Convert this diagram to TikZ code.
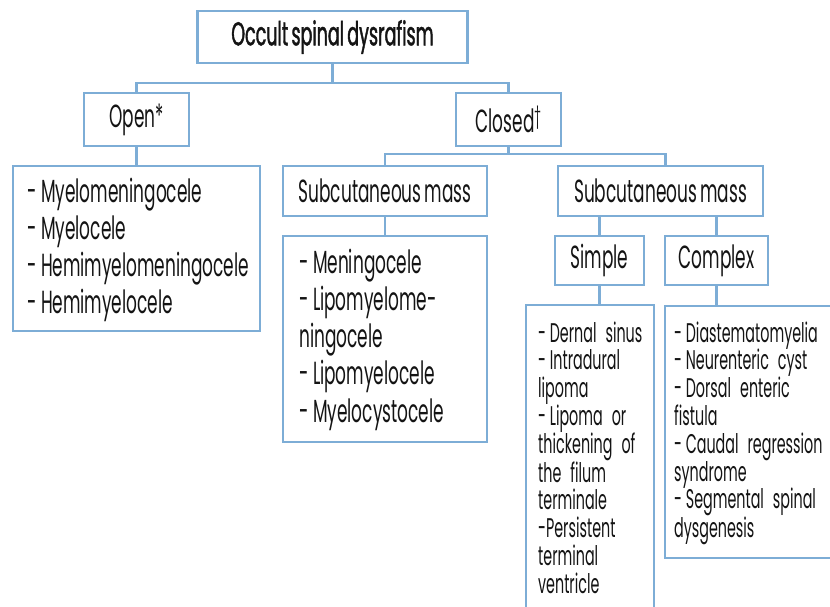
\documentclass[tikz,border=0pt]{standalone}
\usepackage{fontspec}
\setmainfont[FakeStretch=0.53,WordSpace=0.7]{Poppins}
\newfontfamily\headfont[FakeStretch=0.53,FakeBold=1.2,WordSpace=0.7]{Poppins}
\definecolor{boxblue}{RGB}{125,173,214}
\definecolor{inkblack}{RGB}{20,20,20}
\newcommand{\itemdash}{-\hspace{0.14em}}
\tikzset{
	box/.style={draw=boxblue, line width=2.5pt, fill=white, inner sep=0pt,
		rectangle, text=inkblack, font=\fontsize{32}{37.5}\selectfont},
	link/.style={draw=boxblue, line width=2.5pt},
	items/.style={inner sep=0pt, anchor=base west, align=left, text width=400pt,
		text=inkblack, font=\fontsize{32}{37.3}\selectfont},
	smallitems/.style={items, font=\fontsize{27}{27.8}\selectfont}
}
\begin{document}
\begin{tikzpicture}[x=1pt,y=-1pt]
	% frame of the picture
	\useasboundingbox (0,0) rectangle (830,607);
	\clip (0,0) rectangle (830,607);
	\fill[white] (0,0) rectangle (830,607);
	
	% top level
	\node[box, minimum width=270, minimum height=52, font=\headfont\fontsize{33}{36}\selectfont]
		(osd) at (332.5,37) {Occult spinal dysrafism};
	\node[box, minimum width=105, minimum height=53] (open) at (136.5,119.5) {Open*};
	\node[box, minimum width=105, minimum height=53] (closed) at (508.5,119.5) {Closed\textsuperscript{\dag}};
	
	% open branch
	\node[box, minimum width=247, minimum height=165] (openlist) at (136.5,248.5) {};
	\node[items] (openitems) at (27,202)
		{\itemdash Myelomeningocele\\\itemdash Myelocele\\\itemdash Hemimyelomeningocele\\\itemdash Hemimyelocele};
	
	% closed branch
	\node[box, minimum width=204, minimum height=50] (subA) at (385,191) {Subcutaneous mass};
	\node[box, minimum width=205, minimum height=50] (subB) at (660.5,191) {Subcutaneous mass};
	\node[box, minimum width=204, minimum height=206] (sublist) at (385,339) {};
	\node[items] (subitems) at (299,273)
		{\itemdash Meningocele\\\itemdash Lipomyelome-\\ningocele\\\itemdash Lipomyelocele\\\itemdash Myelocystocele};
	
	\node[box, minimum width=89, minimum height=49] (simple) at (599.5,260.5) {Simple};
	\node[box, minimum width=103, minimum height=49] (complex) at (716.5,260.5) {Complex};
	
	\node[box, minimum width=128, minimum height=340] (simplelist) at (590,475) {};
	\node[smallitems] (simpleitems) at (538,342)
		{\itemdash Dernal sinus\\\itemdash Intradural\\lipoma\\\itemdash Lipoma or\\thickening of\\the filum\\terminale\\-Persistent\\terminal\\ventricle};
	\node[box, minimum width=190, minimum height=252] (complexlist) at (760,432) {};
	\node[smallitems] (complexitems) at (674,342)
		{\itemdash Diastematomyelia\\\itemdash Neurenteric cyst\\\itemdash Dorsal enteric\\fistula\\\itemdash Caudal regression\\syndrome\\\itemdash Segmental spinal\\dysgenesis};
	
	% connectors
	\coordinate (j1) at (osd.south |- 0,83);
	\coordinate (j2) at (closed.south |- 0,154);
	\draw[link] (osd.south) -- (j1);
	\draw[link] (open.north) |- (j1) -| (closed.north);
	\draw[link] (open.south) -- (openlist.north);
	\draw[link] (closed.south) -- (j2);
	\draw[link] (subA.north) |- (j2) -| ([xshift=5]subB.north);
	\draw[link] (subA.south) -- (sublist.north);
	\draw[link] (simple.north) -- (simple.north |- subB.south);
	\draw[link] (complex.north) -- (complex.north |- subB.south);
	\draw[link] (simple.south) -- (simple.south |- simplelist.north);
	\draw[link] (complex.south) -- (complex.south |- complexlist.north);
\end{tikzpicture}
\end{document}
